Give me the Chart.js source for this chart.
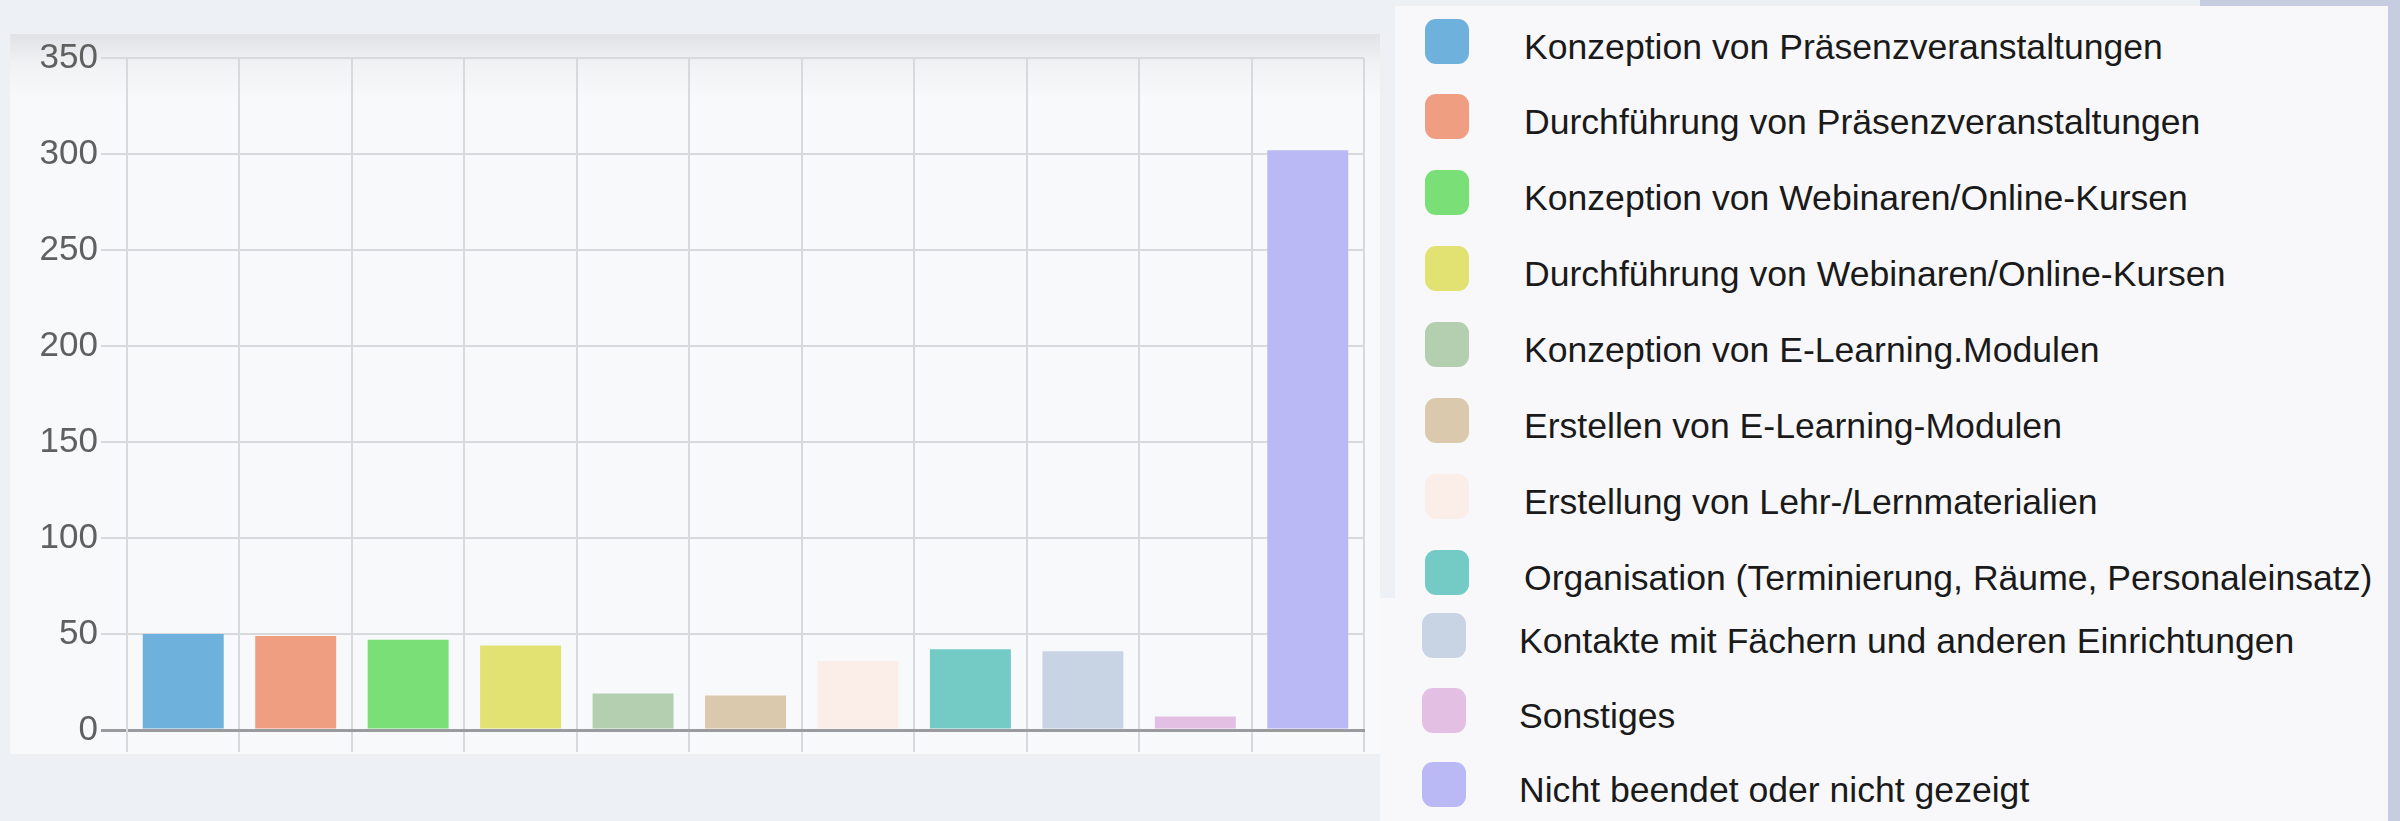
<!DOCTYPE html>
<html>
<head>
<meta charset="utf-8">
<script src="https://cdn.jsdelivr.net/npm/chart.js"></script>
<style>
    html, body { margin: 0; padding: 0; }
    body {
        width: 2400px; height: 821px; position: relative; overflow: hidden;
        background: #edf1f5;
        font-family: "Liberation Sans", Arial, sans-serif;
    }
    .card {
        position: absolute; left: 10px; top: 34px; width: 1370px; height: 720px;
        background: linear-gradient(#e1e2e5 0px, #f1f2f4 30px, #f8f9fb 66px);
    }
    .strip-top { position: absolute; left: 2200px; top: 0; width: 200px; height: 6px; background: #c6cde0; }
    .strip-right { position: absolute; left: 2388px; top: 0; width: 12px; height: 821px; background: #c6cde0; }
    .panel { position: absolute; background: #f8f8fa; }
    #legendTop { left: 1395px; top: 6px; width: 993px; height: 592px; }
    #legendBottom { left: 1380px; top: 598px; width: 1008px; height: 223px; }
    .item { position: absolute; left: 0; height: 0; width: 100%; }
    .box { position: absolute; width: 44px; height: 45px; top: -22px; border-radius: 11px; }
    .txt {
        position: absolute; top: -11px; font-size: 35.6px; line-height: 1;
        color: #1a1a1a; white-space: nowrap;
    }
</style>
</head>
<body>
<div class="card"><canvas id="taskChart" width="1370" height="720"></canvas></div>
<div class="strip-top"></div>
<div class="strip-right"></div>
<div class="panel" id="legendTop"></div>
<div class="panel" id="legendBottom"></div>

<script>
        const categories = [
            'Konzeption von Präsenzveranstaltungen',
            'Durchführung von Präsenzveranstaltungen',
            'Konzeption von Webinaren/Online-Kursen',
            'Durchführung von Webinaren/Online-Kursen',
            'Konzeption von E-Learning.Modulen',
            'Erstellen von E-Learning-Modulen',
            'Erstellung von Lehr-/Lernmaterialien',
            'Organisation (Terminierung, Räume, Personaleinsatz)',
            'Kontakte mit Fächern und anderen Einrichtungen',
            'Sonstiges',
            'Nicht beendet oder nicht gezeigt'
        ];
        const counts = [50, 49, 47, 44, 19, 18, 36, 42, 41, 7, 302];
        const barColors = [
            '#6eb1dc', '#ef9e82', '#79df76', '#e2e272', '#b4cfb0', '#dbc9ae',
            '#fbeee8', '#74cac4', '#c8d3e3', '#e3bfe3', '#bab8f5'
        ];
        const yTickValues = [0, 50, 100, 150, 200, 250, 300, 350];

        const gridColor = '#d8d9dc';
        const axisColor = '#9a9b9e';

        // Bar Chart
        const taskCtx = document.getElementById('taskChart').getContext('2d');
        const taskChart = new Chart(taskCtx, {
            type: 'bar',
            data: {
                labels: categories,
                datasets: [{
                    label: 'Anzahl',
                    data: counts,
                    backgroundColor: barColors,
                    borderWidth: 0
                }]
            },
            options: {
                responsive: false,
                animation: false,
                layout: {
                    padding: { top: 23, right: 16, bottom: 0, left: 0 }
                },
                plugins: {
                    legend: { display: false },
                    tooltip: { enabled: false }
                },
                scales: {
                    x: {
                        ticks: { display: false },
                        grid: {
                            offset: true,
                            lineWidth: 2,
                            tickLength: 22,
                            color: function(ctx) {
                                return ctx.index === categories.length ? 'rgba(0,0,0,0)' : gridColor;
                            }
                        },
                        border: { color: axisColor, width: 3 }
                    },
                    y: {
                        min: yTickValues[0],
                        max: yTickValues[yTickValues.length - 1],
                        afterBuildTicks: function(scale) {
                            scale.ticks = yTickValues.map(v => ({ value: v }));
                        },
                        afterFit: function(scale) {
                            scale.width = 117;
                        },
                        ticks: {
                            color: '#606060',
                            padding: 3,
                            font: { family: '"Liberation Sans", Arial, sans-serif', size: 35 }
                        },
                        grid: {
                            tickLength: 26,
                            lineWidth: function(ctx) {
                                return ctx.tick && ctx.tick.value === 0 ? 3 : 2;
                            },
                            color: function(ctx) {
                                return ctx.tick && ctx.tick.value === 0 ? axisColor : gridColor;
                            }
                        },
                        border: { color: gridColor, width: 2 }
                    }
                }
            }
        });

        // HTML legend, built from the chart data
        function buildLegend(chart) {
            const labels = chart.data.labels;
            const colors = chart.data.datasets[0].backgroundColor;
            labels.forEach(function(label, i) {
                const upper = i < 8;
                const panel = document.getElementById(upper ? 'legendTop' : 'legendBottom');
                const center = upper ? 40.5 + 75.9 * i : 635 + 74.5 * (i - 8);
                const item = document.createElement('div');
                item.className = 'item';
                item.style.top = (center - (upper ? 6 : 598)) + 'px';

                const box = document.createElement('div');
                box.className = 'box';
                box.style.left = (upper ? 30 : 42) + 'px';
                box.style.background = colors[i];

                const txt = document.createElement('div');
                txt.className = 'txt';
                txt.style.left = (upper ? 129 : 139) + 'px';
                txt.textContent = label;

                item.appendChild(box);
                item.appendChild(txt);
                panel.appendChild(item);
            });
        }
        buildLegend(taskChart);
</script>
</body>
</html>
